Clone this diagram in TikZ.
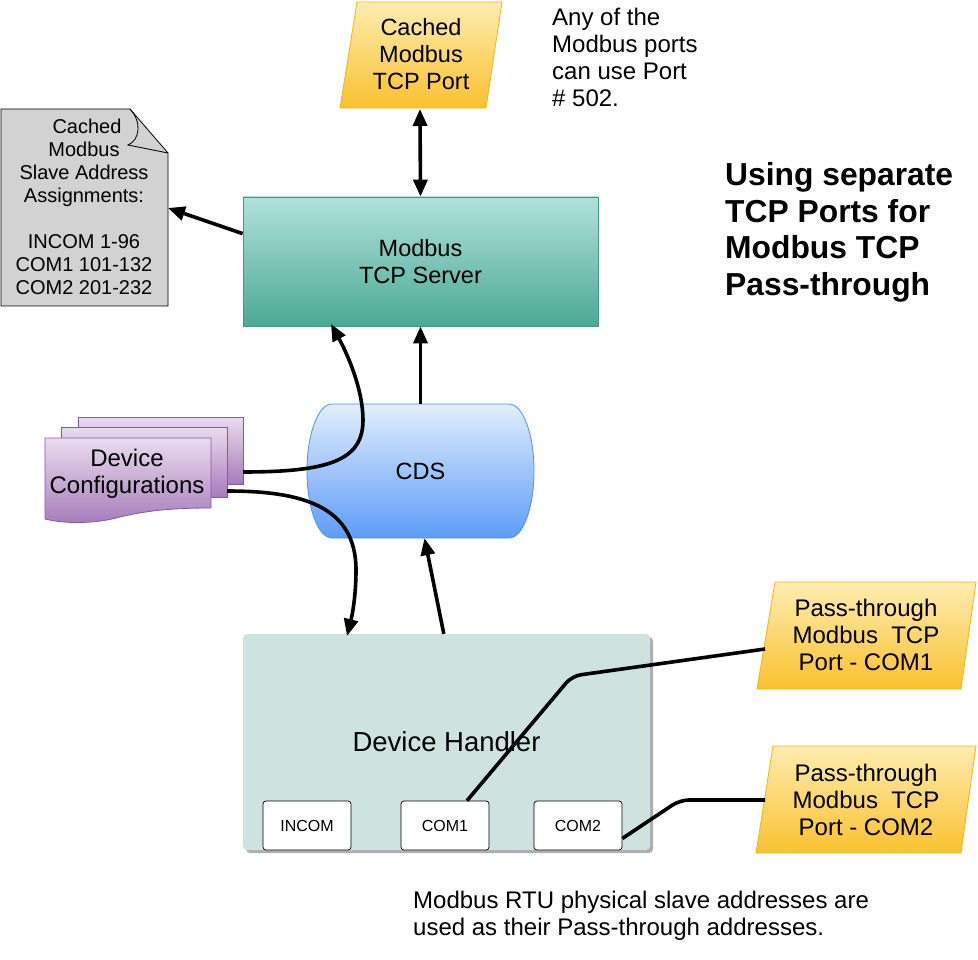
\documentclass[tikz,border=0pt]{standalone}
\usepackage{fontspec}
\setmainfont{Liberation Sans}
\usetikzlibrary{arrows.meta,calc,shadows}
\definecolor{ylwtop}{HTML}{FEEDB0}
\definecolor{ylwbot}{HTML}{FAC12E}
\definecolor{ylwline}{HTML}{F3B610}
\definecolor{tealtop}{HTML}{B0E2DA}
\definecolor{tealbot}{HTML}{4BA994}
\definecolor{tealline}{HTML}{3C9A86}
\definecolor{bluetop}{HTML}{E2EEFD}
\definecolor{bluebot}{HTML}{5C9CF8}
\definecolor{blueline}{HTML}{4F90F2}
\definecolor{purtop}{HTML}{E9DCEE}
\definecolor{purbot}{HTML}{A67CBA}
\definecolor{purline}{HTML}{8E52AC}
\definecolor{dhfill}{HTML}{CEE3DF}
\definecolor{docfill}{HTML}{D2D2D2}
\tikzset{
  arr/.style={line width=3.6pt,-{Triangle[length=17pt,width=14pt]}},
  darr/.style={line width=3.6pt,{Triangle[length=17pt,width=14pt]}-{Triangle[length=17pt,width=14pt]}},
  conn/.style={line width=3.6pt,rounded corners=9pt},
  yport/.style={top color=ylwtop,bottom color=ylwbot,draw=ylwline,line width=0.8pt},
  purdoc/.style={top color=purtop,bottom color=purbot,draw=purline,line width=0.8pt},
  lbl/.style={align=center,font=\fontsize{23.5}{26.8}\selectfont,inner sep=0pt},
  portbox/.style={draw=black,line width=0.7pt,fill=white,rounded corners=3pt,minimum width=88pt,minimum height=49pt,font=\fontsize{16}{19}\selectfont,inner sep=0pt}
}
\begin{document}
\begin{tikzpicture}[x=1pt,y=-1pt]
\useasboundingbox (0,0) rectangle (978,960);

% Cached Modbus TCP Port
\path[yport] (357,2) -- (502,2) -- (486,108) -- (340,108) -- cycle;
\node[lbl] (cport) at (421,54) {Cached\\Modbus\\TCP Port};
\coordinate (cportB) at (420,109);

% note text
\node[align=left,anchor=north west,font=\fontsize{24}{27}\selectfont,inner sep=0pt] (note) at (552,8) {Any of the\\Modbus ports\\can use Port\\\# 502.};

% Title
\node[align=left,anchor=north west,font=\bfseries\fontsize{31.8}{36.8}\selectfont,inner sep=0pt] (title) at (725,162) {Using separate\\TCP Ports for\\Modbus TCP\\Pass-through};

% Modbus TCP Server
\node[top color=tealtop,bottom color=tealbot,draw=tealline,line width=0.8pt,minimum width=355pt,minimum height=129pt,lbl] (server) at (420.5,261.5) {Modbus\\TCP Server};

% Document (slave address assignments)
\path[fill=docfill,draw=black,line width=0.8pt] (1,109) -- (130,109) -- (168,153) -- (168,306) -- (1,306) -- cycle;
\draw[black,line width=0.8pt] (130,109) .. controls (142,122) and (140,140) .. (128,145) -- (168,153);
\node[align=center,font=\fontsize{20}{23}\selectfont,inner sep=0pt] (addr) at (84,207) {\hspace*{6pt}Cached\\Modbus\\Slave Address\\Assignments:\\[23pt]INCOM 1-96\\COM1 101-132\\COM2 201-232};
\coordinate (docR) at (168,208);

% CDS cylinder
\path[top color=bluetop,bottom color=bluebot,draw=blueline,line width=0.8pt]
  (332,404) -- (509,404) .. controls (523,404) and (534,434) .. (534,471)
  .. controls (534,508) and (523,538) .. (509,538) -- (332,538)
  .. controls (318,538) and (307,508) .. (307,471)
  .. controls (307,434) and (318,404) .. (332,404) -- cycle;
\node[minimum width=227pt,minimum height=134pt,lbl] (cds) at (420.5,471) {CDS};

% Device configurations
\path[purdoc] (78,417) rectangle (243,484);
\path[purdoc] (61,427) rectangle (227,497);
\path[purdoc] (45,438) -- (211,438) -- (211,508) .. controls (170,508) and (145,511) .. (120,517)
  .. controls (95,524) and (65,524) .. (45,519) -- cycle;
\node[lbl,font=\fontsize{24}{27.5}\selectfont] (devcfg) at (127,474) {Device\\Configurations};
\coordinate (cfgA) at (243,472);
\coordinate (cfgB) at (227,491);

% Device Handler
\node[fill=dhfill,rounded corners=4pt,minimum width=407pt,minimum height=216pt,
  drop shadow={shadow xshift=3pt,shadow yshift=-3pt,opacity=0.45,fill=black!70},
  font=\fontsize{27.5}{30}\selectfont,inner sep=0pt] (dh) at (446.5,742) {\raisebox{-2pt}{Device Handler}};
\node[portbox] (incom) at (307,825.5) {INCOM};
\node[portbox] (com1) at (445,825.5) {COM1};
\node[portbox] (com2) at (578,825.5) {COM2};

% Pass-through ports
\path[yport] (775,582) -- (976,582) -- (961,689) -- (757,689) -- cycle;
\node[lbl,font=\fontsize{24}{26.8}\selectfont] (pt1) at (866,635) {Pass-through\\Modbus~ TCP\\Port - COM1};
\coordinate (pt1in) at (765,649);
\path[yport] (773,746) -- (976,746) -- (961,853) -- (756,853) -- cycle;
\node[lbl,font=\fontsize{24}{26.8}\selectfont] (pt2) at (866,800) {Pass-through\\Modbus~ TCP\\Port - COM2};
\coordinate (pt2in) at (765,800);

% bottom text
\node[align=left,anchor=north west,font=\fontsize{24}{27}\selectfont,inner sep=0pt] (foot) at (413,891) {Modbus RTU physical slave addresses are\\used as their Pass-through addresses.};

% connectors
\draw[darr] (cportB) -- (server.north);
\draw[arr] ($(server.north west)+(0,37)$) -- (docR);
\draw[arr] (cds.north) -- (server.south);
\draw[arr] (cfgA) .. controls (330,472) and (363,460) .. (363,420) .. controls (363,390) and (348,355) .. (331,324);
\draw[arr] (cfgB) .. controls (300,491) and (356,505) .. (356,570) .. controls (356,600) and (351,620) .. (347,636);
\draw[arr] ($(dh.north west)+(201,0)$) -- ($(cds.south)+(4,0)$);
\draw[conn] ($(com1.north)+(22,0)$) -- (572,676) -- (pt1in);
\draw[conn] ($(com2.east)+(0,13)$) -- (680,800) -- (pt2in);
\end{tikzpicture}
\end{document}
